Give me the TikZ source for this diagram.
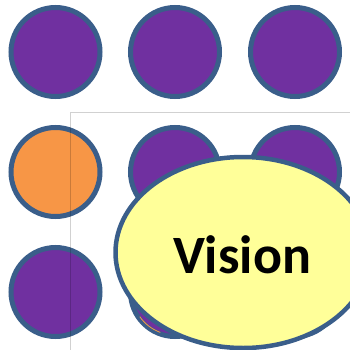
\documentclass[tikz,border=0pt]{standalone}
\usepackage{fontspec}
\setmainfont{Carlito}
\definecolor{dotpurple}{HTML}{7030A0}
\definecolor{dotorange}{HTML}{F79646}
\definecolor{rimblue}{HTML}{3A5E8A}
\definecolor{visionyellow}{HTML}{FFFF99}
\begin{document}
\begin{tikzpicture}[x=1pt,y=-1pt,
  dot/.style={circle,draw=rimblue,line width=5pt,minimum size=89pt,inner sep=0pt,fill=dotpurple},
  hot/.style={fill=dotorange},
  guide/.style={draw=black,draw opacity=0.18,line width=1pt},
  bigoval/.style={draw=rimblue,line width=4.5pt,fill=visionyellow},
  bigtext/.style={font=\bfseries\fontsize{54}{60}\selectfont,inner sep=0pt}]
\useasboundingbox (0,0) rectangle (350,350);
\node[dot] (a1) at (55.5,52) {};
\node[dot] (a2) at (175,52) {};
\node[dot] (a3) at (295,52) {};
\node[dot,hot] (b1) at (55.5,172) {};
\node[dot] (b2) at (175,172) {};
\node[dot] (b3) at (295,172) {};
\node[dot] (c1) at (55.5,292) {};
\node[dot] (c2) at (175,292) {};
\node[dot] (c3) at (295,292) {};
\draw[dotorange,line width=0.8pt] (c2.center) ++(-215:43) arc[start angle=-215,end angle=-250,radius=43];
\coordinate (g0) at (70,112);
\coordinate (g1) at (351,112);
\coordinate (g2) at (70,351);
\draw[guide] (g1) -- (g0) -- (g2);
\coordinate (vc) at (243,252.5);
\path[bigoval] (vc) ellipse [x radius=127.5, y radius=95.5];
\node[bigtext] (v) at (242,255) {Vision};
\end{tikzpicture}
\end{document}
